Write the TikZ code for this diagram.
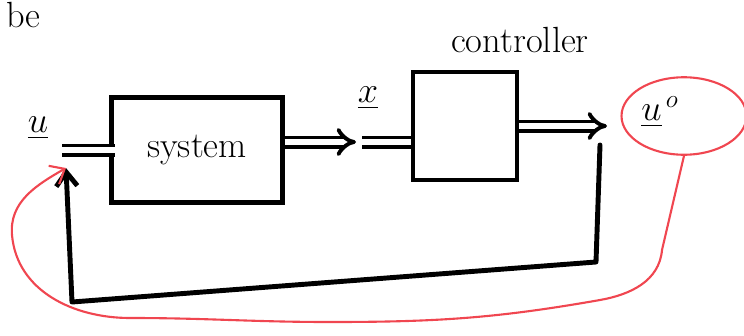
\documentclass[tikz,border=0pt]{standalone}
\usepackage{amsmath,amssymb}
\usepackage{xcolor}
\usetikzlibrary{calc,arrows.meta,positioning,shapes.geometric}

\definecolor{penred}{RGB}{240,70,80}

\tikzset{
  block/.style={draw, line width=2.5pt, inner sep=0pt},
  sig/.style={double, double distance=3pt, line width=2.2pt, line cap=butt},
  sigarrow/.style={sig, -{Implies[length=10pt, width=16pt]}},
  fbline/.style={line width=2.8pt, line join=round, -{Straight Barb[length=8pt, width=12pt]}},
  redpen/.style={penred, line width=1.2pt, line cap=round, line join=round},
}

\begin{document}
\begin{tikzpicture}[x=0.02cm, y=-0.02cm, line cap=round, font=\huge]

\useasboundingbox (0,0) rectangle (744,335);

% ---------------------------------------------------------
% Blocks
% ---------------------------------------------------------
\node[block, minimum width=3.42cm, minimum height=2.1cm] (sys) at (197,150) {system};
\node[block, minimum width=2.08cm, minimum height=2.16cm] (ctrl) at (465,126) {};
\node (ctrltext) at (520,40) {controller};

% ---------------------------------------------------------
% Key points
% ---------------------------------------------------------
\coordinate (uin)   at (62,150);    % start of input
\coordinate (xtip)  at (356,142);   % arrow tip after system
\coordinate (xtail) at (362,142);   % restart towards controller
\coordinate (uout)  at (607,126);   % output arrow tip
\coordinate (fbtop) at (600,145);   % feedback leaves output
\coordinate (fbR)   at (596,262);   % lower right corner
\coordinate (fbL)   at (72,302);    % lower left corner
\coordinate (fbin)  at (66,168);    % feedback enters input

% ---------------------------------------------------------
% Labels
% ---------------------------------------------------------
\node[anchor=north west, inner sep=1pt] (be) at (4,0) {be};
\node (ulab) at (38,128) {$\underline{u}$};
\node (xlab) at (368,98) {$\underline{x}$};
\node (uo)   at (660,112) {$\underline{u}^{\,o}$};
\node[ellipse, draw=penred, line width=1.2pt,
      minimum width=2.5cm, minimum height=1.55cm] (uring) at (684,116) {};

% ---------------------------------------------------------
% Signal lines
% ---------------------------------------------------------
\draw[sig] (uin) -- ($(uin -| sys.west)+(6,0)$);
\draw[sigarrow] (sys.east |- xtip) -- (xtip);
\draw[sig] (xtail) -- (xtail -| ctrl.west);
\draw[sigarrow] (ctrl.east) -- (uout);

% ---------------------------------------------------------
% Feedback loop
% ---------------------------------------------------------
\draw[fbline] (fbtop) -- (fbR) -- (fbL) -- (fbin);

% ---------------------------------------------------------
% Red loop from u^o back to the input
% ---------------------------------------------------------
\draw[redpen, -{Straight Barb[length=7pt, width=12pt]}]
    (uring.south) -- (662,250)
    to[out=-95, in=10] (600,300)
    to[out=-170, in=0] (330,322)
    to[out=180, in=0] (130,318)
    to[out=180, in=-85] (12,235)
    to[out=95, in=-150] (fbin);

\end{tikzpicture}
\end{document}
